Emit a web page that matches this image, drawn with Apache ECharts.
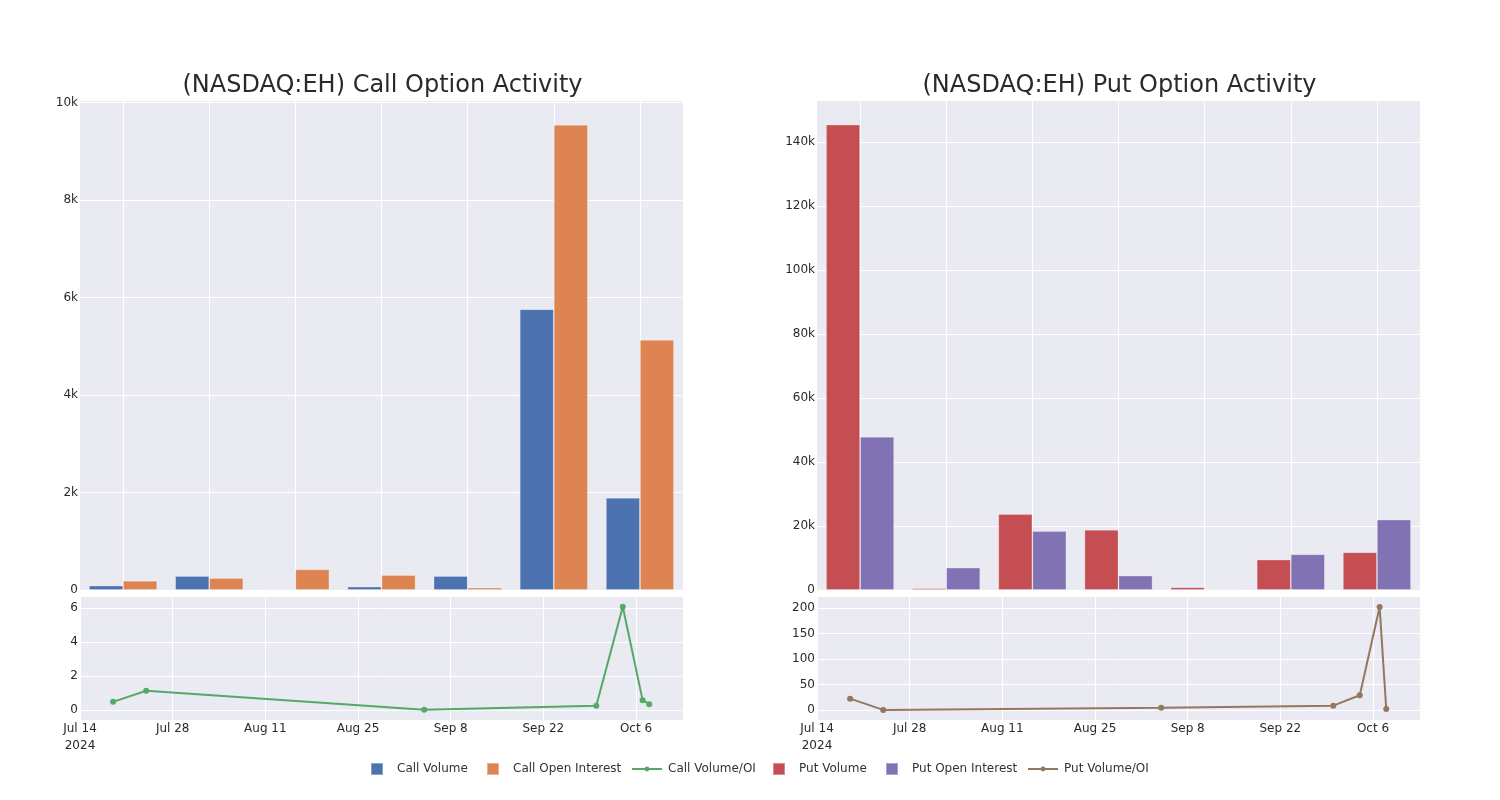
<!DOCTYPE html>
<html><head><meta charset="utf-8">
<script src="https://cdn.jsdelivr.net/npm/echarts@6/dist/echarts.min.js"></script>
<style>html,body{margin:0;padding:0;background:#fff}#c{width:1500px;height:800px}</style>
</head><body><div id="c"></div>
<script>
// ---- data ----
const dates = ['2024-07-19','2024-07-24','2024-09-04','2024-09-30','2024-10-04','2024-10-07','2024-10-08'];
const callVolume = [90, 287, 10, 68, 287, 5758, 1891];
const callOpenInterest = [190, 246, 422, 307, 47, 9541, 5129];
const callVolOI = [0.47, 1.12, 0.01, 0.24, 6.08, 0.57, 0.33];
const putVolume = [145500, 500, 23700, 18800, 850, 9500, 11800];
const putOpenInterest = [47900, 6970, 18450, 4500, 150, 11150, 22000];
const putVolOI = [22.3, 0.2, 4.6, 8.5, 28.9, 202.6, 2];
const xStartDate = '2024-07-14';
const xTickStepDays = 14;
const callVolOITicks = [0, 2, 4, 6];
const putVolOITicks = [0, 50, 100, 150, 200];
const titles = ['(NASDAQ:EH) Call Option Activity', '(NASDAQ:EH) Put Option Activity'];

// ---- helpers ----
const MONTHS = ['Jan','Feb','Mar','Apr','May','Jun','Jul','Aug','Sep','Oct','Nov','Dec'];
function utc(s){ const p = s.split('-').map(Number); return Date.UTC(p[0], p[1]-1, p[2]); }
const DAY = 86400000;
const x0 = utc(xStartDate);
function dayOffset(s){ return Math.round((utc(s) - x0) / DAY); }
function fmtDay(v){
  const d = new Date(x0 + Math.round(v) * DAY);
  let s = MONTHS[d.getUTCMonth()] + ' ' + d.getUTCDate();
  if (Math.round(v) === 0) s += '\n' + d.getUTCFullYear();
  return s;
}
function kfmt(v){ return v === 0 ? '0' : (v/1000) + 'k'; }

const FONT = '"DejaVu Sans", sans-serif';
const BG = '#EAEAF2';
const TXT = '#2a2a2a';
const LEFT = [80, 817];
const W = 603;

const grids = [
  {left: LEFT[0], top: 100, width: W, height: 490},
  {left: LEFT[0], top: 597, width: W, height: 123},
  {left: LEFT[1], top: 100, width: W, height: 490},
  {left: LEFT[1], top: 597, width: W, height: 123}
].map(g => Object.assign(g, {show: true, backgroundColor: BG, borderWidth: 0, containLabel: false}));

function catAxis(gi){
  return {type: 'category', gridIndex: gi, data: dates, boundaryGap: true,
    axisLine: {show: false}, axisTick: {show: false, alignWithLabel: true, interval: 0}, axisLabel: {show: false, interval: 0},
    splitLine: {show: true, alignWithLabel: true, interval: 0, lineStyle: {color: '#fff', width: 1}}};
}
function dayAxis(gi){
  return {type: 'value', gridIndex: gi, min: 0, max: 91.1, interval: xTickStepDays,
    axisLine: {show: false}, axisTick: {show: false},
    axisLabel: {show: true, formatter: fmtDay, color: TXT, fontSize: 12, fontFamily: FONT, margin: 0, lineHeight: 17, showMaxLabel: false, showMinLabel: true},
    splitLine: {show: true, lineStyle: {color: '#fff', width: 1}}};
}
const labelStyle = {color: TXT, fontSize: 12, fontFamily: FONT, margin: 2, padding: [4, 0, 0, 0]};

const option = {
  animation: false,
  backgroundColor: '#fff',
  textStyle: {fontFamily: FONT},
  title: titles.map((t, i) => ({
    text: t, left: LEFT[i] + W/2 - 4, top: 69, textAlign: 'center',
    textStyle: {fontSize: 24, fontWeight: 'normal', color: TXT, fontFamily: FONT}
  })),
  grid: grids,
  xAxis: [catAxis(0), dayAxis(1), catAxis(2), dayAxis(3)],
  yAxis: [
    {type: 'value', gridIndex: 0, min: 0, max: 10050, interval: 2000,
      axisLine: {show: false}, axisTick: {show: false},
      axisLabel: Object.assign({formatter: kfmt, showMaxLabel: false}, labelStyle),
      splitLine: {lineStyle: {color: '#fff', width: 1}}},
    {type: 'value', gridIndex: 1, min: -0.6, max: 6.65,
      axisLine: {show: false}, axisTick: {show: false, customValues: callVolOITicks},
      axisLabel: Object.assign({customValues: callVolOITicks}, labelStyle),
      splitLine: {lineStyle: {color: '#fff', width: 1}}},
    {type: 'value', gridIndex: 2, min: 0, max: 153200, interval: 20000,
      axisLine: {show: false}, axisTick: {show: false},
      axisLabel: Object.assign({formatter: kfmt, showMaxLabel: false}, labelStyle),
      splitLine: {lineStyle: {color: '#fff', width: 1}}},
    {type: 'value', gridIndex: 3, min: -19.7, max: 222.2,
      axisLine: {show: false}, axisTick: {show: false, customValues: putVolOITicks},
      axisLabel: Object.assign({customValues: putVolOITicks}, labelStyle),
      splitLine: {lineStyle: {color: '#fff', width: 1}}}
  ],
  legend: [
    {data: ['Call Volume'], left: 370, icon: 'rect', itemWidth: 12, itemHeight: 12},
    {data: ['Call Open Interest'], left: 486, icon: 'rect', itemWidth: 12, itemHeight: 12},
    {data: ['Call Volume/OI'], left: 631, itemWidth: 30, itemHeight: 6},
    {data: ['Put Volume'], left: 772, icon: 'rect', itemWidth: 12, itemHeight: 12},
    {data: ['Put Open Interest'], left: 885, icon: 'rect', itemWidth: 12, itemHeight: 12},
    {data: ['Put Volume/OI'], left: 1027, itemWidth: 30, itemHeight: 6}
  ].map(l => Object.assign(l, {top: l.icon === 'rect' ? 762 : 763, padding: 0, textStyle: {color: '#333', fontSize: 12, fontFamily: FONT, padding: [0, 0, 0, l.icon === 'rect' ? 9 : 1]}})),
  series: [
    {name: 'Call Volume', type: 'bar', xAxisIndex: 0, yAxisIndex: 0, data: callVolume, barGap: '0%', barCategoryGap: '21%',
      itemStyle: {color: '#4C72B0', borderColor: 'rgba(255,255,255,0.35)', borderWidth: 0.8}},
    {name: 'Call Open Interest', type: 'bar', xAxisIndex: 0, yAxisIndex: 0, data: callOpenInterest, barGap: '0%', barCategoryGap: '21%',
      itemStyle: {color: '#DD8452', borderColor: 'rgba(255,255,255,0.35)', borderWidth: 0.8}},
    {name: 'Call Volume/OI', type: 'line', xAxisIndex: 1, yAxisIndex: 1,
      data: dates.map((d, i) => [dayOffset(d), callVolOI[i]]),
      symbol: 'circle', symbolSize: 6, showSymbol: true,
      lineStyle: {color: '#55A868', width: 2}, itemStyle: {color: '#55A868'}},
    {name: 'Put Volume', type: 'bar', xAxisIndex: 2, yAxisIndex: 2, data: putVolume, barGap: '0%', barCategoryGap: '21%',
      itemStyle: {color: '#C44E52', borderColor: 'rgba(255,255,255,0.35)', borderWidth: 0.8}},
    {name: 'Put Open Interest', type: 'bar', xAxisIndex: 2, yAxisIndex: 2, data: putOpenInterest, barGap: '0%', barCategoryGap: '21%',
      itemStyle: {color: '#8172B3', borderColor: 'rgba(255,255,255,0.35)', borderWidth: 0.8}},
    {name: 'Put Volume/OI', type: 'line', xAxisIndex: 3, yAxisIndex: 3,
      data: dates.map((d, i) => [dayOffset(d), putVolOI[i]]),
      symbol: 'circle', symbolSize: 6, showSymbol: true,
      lineStyle: {color: '#937860', width: 2}, itemStyle: {color: '#937860'}}
  ]
};
const chart = echarts.init(document.getElementById('c'), null, {renderer: 'canvas'});
chart.setOption(option);
</script>
</body></html>
